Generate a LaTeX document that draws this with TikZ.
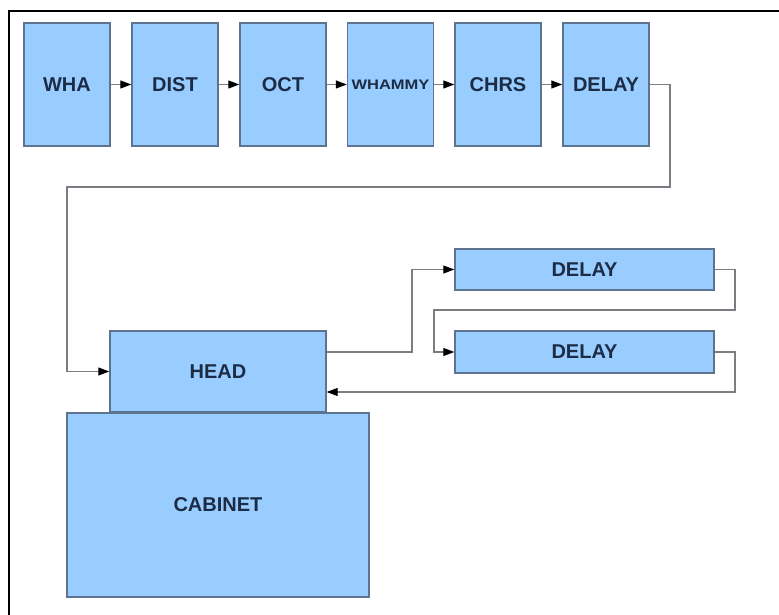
\documentclass[tikz,border=0pt]{standalone}
\usepackage{fontspec}
\setmainfont{Liberation Sans}
\usetikzlibrary{arrows.meta}
\definecolor{boxfill}{HTML}{99CCFF}
\definecolor{boxedge}{HTML}{5E7390}
\definecolor{wire}{HTML}{7A7E82}
\definecolor{label}{HTML}{1C2C45}
\begin{document}
\begin{tikzpicture}[x=1pt,y=-1pt,
  unit/.style={draw=boxedge,line width=1.4pt,fill=boxfill,inner sep=0pt,
    text=label,font=\fontsize{20}{22}\selectfont\bfseries},
  pedal/.style={unit,minimum width=86pt,minimum height=123pt},
  wirelink/.style={draw=wire,line width=1.2pt},
  flow/.style={wirelink,-{Triangle[length=11pt,width=8pt,color=black]}}]
\useasboundingbox (0,0) rectangle (779,615);
\fill[white] (0,0) rectangle (779,615);
% frame edges
\draw[black,line width=1.5pt] (779,11) -- (9,11) -- (9,615);

% pedal chain
\node[pedal] (wha) at (67,84.5) {WHA};
\node[pedal] (dist) at (175,84.5) {DIST};
\node[pedal] (oct) at (283,84.5) {OCT};
\node[pedal] (whammy) at (390.5,84.5) {\resizebox{78pt}{9.5pt}{WHAMMY}};
\node[pedal] (chrs) at (498,84.5) {CHRS};
\node[pedal] (delay) at (606,84.5) {DELAY};

% amplifier
\node[unit,minimum width=216pt,minimum height=81pt] (head) at (218,371.5) {HEAD};
\node[unit,minimum width=302pt,minimum height=184pt] (cab) at (218,505) {CABINET};

% effects loop delays
\node[unit,minimum width=259pt,minimum height=41pt] (loopa) at (584.5,269.5) {DELAY};
\node[unit,minimum width=259pt,minimum height=42pt] (loopb) at (584.5,352) {DELAY};

% routing points
\coordinate (r1) at (670,187);
\coordinate (r2) at (67,187);
\coordinate (s1) at (412,352);
\coordinate (t1) at (735,310);
\coordinate (t2) at (434,310);
\coordinate (ret) at (735,392);

\draw[flow] (wha) -- (dist);
\draw[flow] (dist) -- (oct);
\draw[flow] (oct) -- (whammy);
\draw[flow] (whammy) -- (chrs);
\draw[flow] (chrs) -- (delay);
\draw[flow] (delay.east) -| (r1) -- (r2) |- (head.west);
\draw[flow] (head.east |- s1) -- (s1) |- (loopa.west);
\draw[flow] (loopa.east) -| (t1) -- (t2) |- (loopb.west);
\draw[flow] (loopb.east) -| (ret) -- (head.east |- ret);
\end{tikzpicture}
\end{document}
